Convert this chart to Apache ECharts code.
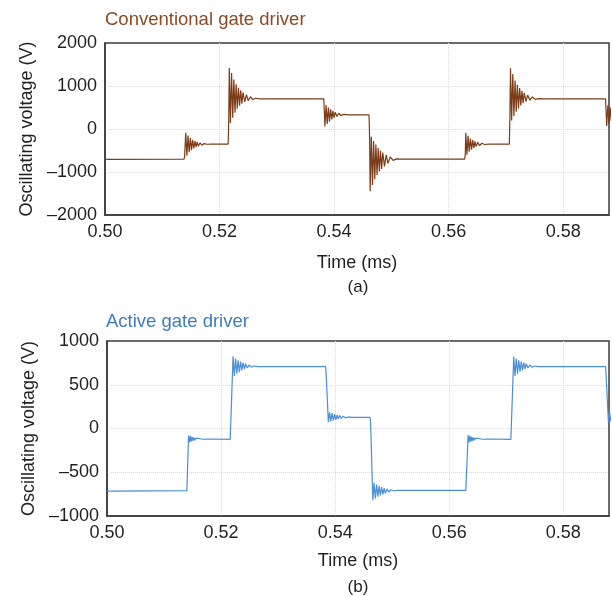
<!DOCTYPE html>
<html>
<head>
<meta charset="utf-8">
<script src="https://cdn.jsdelivr.net/npm/echarts@6/dist/echarts.min.js"></script>
<style>
html, body { margin: 0; padding: 0; background: #fff; }
#chart { width: 612px; height: 596px; }
</style>
</head>
<body>
<div id="chart"></div>
<script>
// tick settings
var timeTicks = [0.50, 0.52, 0.54, 0.56, 0.58];
var convTicks = [-2000, -1000, 0, 1000, 2000];
var actTicks = [-1000, -500, 0, 500, 1000];

// conventional gate driver, [time ms, voltage V], read edge by edge
var convStart = [[0.5000, -700], [0.5003, -690], [0.5006, -708], [0.5009, -700], [0.5138, -700]];
var convEdge1 = [[0.5139, -640], [0.5141, -90], [0.5143, -620], [0.5145, -150], [0.5147, -540], [0.5149, -210],
  [0.5151, -490], [0.5153, -250], [0.5155, -450], [0.5157, -280], [0.5159, -420], [0.5161, -300],
  [0.5163, -400], [0.5166, -320], [0.5169, -375], [0.5173, -340], [0.5178, -355], [0.5185, -350], [0.5215, -350]];
var convEdge2 = [[0.5216, 150], [0.5217, 1420], [0.5219, 140], [0.5221, 1300], [0.5223, 260], [0.5225, 1150],
  [0.5227, 380], [0.5229, 1040], [0.5231, 470], [0.5233, 960], [0.5235, 540], [0.5237, 900], [0.5239, 590],
  [0.5241, 850], [0.5244, 630], [0.5247, 800], [0.5250, 660], [0.5254, 750], [0.5258, 685], [0.5263, 715],
  [0.5270, 700], [0.5382, 700]];
var convEdge3 = [[0.5383, 400], [0.5384, 60], [0.5386, 560], [0.5388, 120], [0.5390, 500], [0.5392, 170],
  [0.5394, 460], [0.5396, 220], [0.5398, 420], [0.5400, 260], [0.5402, 390], [0.5405, 290], [0.5408, 365],
  [0.5412, 315], [0.5417, 340], [0.5425, 330], [0.5461, 330]];
var convEdge4 = [[0.5462, -200], [0.5463, -1450], [0.5465, -180], [0.5467, -1300], [0.5469, -280], [0.5471, -1170],
  [0.5473, -360], [0.5475, -1070], [0.5477, -440], [0.5479, -990], [0.5481, -500], [0.5483, -930],
  [0.5485, -550], [0.5488, -870], [0.5491, -600], [0.5494, -800], [0.5498, -650], [0.5503, -730],
  [0.5509, -695], [0.5516, -700], [0.5628, -700]];
var convEdge5 = [[0.5629, -600], [0.5630, -90], [0.5632, -600], [0.5634, -160], [0.5636, -530], [0.5638, -220],
  [0.5640, -480], [0.5642, -260], [0.5644, -440], [0.5646, -290], [0.5648, -410], [0.5651, -310],
  [0.5654, -390], [0.5658, -330], [0.5663, -360], [0.5670, -350], [0.5706, -350]];
var convEdge6 = [[0.5707, 300], [0.5708, 1410], [0.5710, 200], [0.5712, 1280], [0.5714, 300], [0.5716, 1130],
  [0.5718, 400], [0.5720, 1030], [0.5722, 480], [0.5724, 950], [0.5726, 550], [0.5728, 890], [0.5730, 600],
  [0.5732, 840], [0.5735, 640], [0.5738, 790], [0.5742, 670], [0.5746, 745], [0.5751, 690], [0.5758, 705],
  [0.5766, 700], [0.5874, 700]];
var convEdge7 = [[0.5875, 380], [0.5876, 70], [0.5878, 550], [0.5880, 120], [0.5882, 500], [0.5884, 180], [0.5886, 420]];

// active gate driver
var actStart = [[0.5000, -710], [0.5003, -700], [0.5005, -716], [0.5008, -710], [0.5140, -710]];
var actEdge1 = [[0.5143, -80], [0.51445, -160], [0.5146, -85], [0.51475, -150], [0.5149, -95], [0.51505, -140],
  [0.5152, -103], [0.5154, -133], [0.5156, -110], [0.5159, -128], [0.5163, -117], [0.5169, -123],
  [0.5177, -120], [0.5216, -124]];
var actEdge2 = [[0.5217, -110], [0.5221, 825], [0.52232, 600], [0.52254, 800], [0.52276, 625], [0.52298, 780],
  [0.5232, 645], [0.52342, 765], [0.52364, 665], [0.52386, 752], [0.52408, 680], [0.5243, 740],
  [0.5246, 692], [0.5249, 725], [0.5253, 702], [0.5258, 714], [0.5264, 708], [0.5383, 708]];
var actEdge3 = [[0.5384, 650], [0.5388, 72], [0.53902, 185], [0.53924, 80], [0.53946, 175], [0.53968, 90],
  [0.5399, 165], [0.54012, 100], [0.54034, 155], [0.54056, 108], [0.5408, 148], [0.5411, 115],
  [0.5414, 140], [0.5418, 122], [0.5423, 132], [0.5429, 128], [0.5461, 128]];
var actEdge4 = [[0.5462, 90], [0.5466, -820], [0.54682, -620], [0.54704, -800], [0.54726, -640], [0.54748, -780],
  [0.5477, -655], [0.54792, -765], [0.54814, -670], [0.54836, -752], [0.54858, -683], [0.5488, -740],
  [0.5491, -692], [0.5494, -726], [0.5498, -700], [0.5503, -714], [0.5509, -708], [0.5629, -708]];
var actEdge5 = [[0.5630, -700], [0.5633, -75], [0.56345, -160], [0.5636, -85], [0.56375, -150], [0.5639, -95],
  [0.56405, -140], [0.5642, -103], [0.5644, -133], [0.5646, -110], [0.5649, -128], [0.5653, -117],
  [0.5659, -123], [0.5667, -120], [0.5708, -124]];
var actEdge6 = [[0.5709, -110], [0.5713, 822], [0.57152, 600], [0.57174, 800], [0.57196, 625], [0.57218, 780],
  [0.5724, 648], [0.57262, 765], [0.57284, 665], [0.57306, 752], [0.57328, 680], [0.5735, 740],
  [0.5738, 692], [0.5741, 725], [0.5745, 702], [0.5750, 714], [0.5756, 708], [0.5874, 708]];
var actEdge7 = [[0.5875, 600], [0.5879, 66], [0.58812, 180], [0.58834, 80], [0.5886, 170]];

var convData = [].concat(convStart, convEdge1, convEdge2, convEdge3, convEdge4, convEdge5, convEdge6, convEdge7);
var actData = [].concat(actStart, actEdge1, actEdge2, actEdge3, actEdge4, actEdge5, actEdge6, actEdge7);

var FONT = '"Liberation Sans", Arial, sans-serif';
var TXT = '#231f20';
var FRAME = '#3a3a3a';

function minus(v) {
  return v < 0 ? '\u2013' + Math.abs(v) : String(v);
}

function xAxisFor(idx, gap) {
  return {
    type: 'value', gridIndex: idx,
    min: timeTicks[0], max: 0.588, interval: timeTicks[1] - timeTicks[0],
    name: 'Time (ms)', nameLocation: 'middle', nameGap: gap,
    nameTextStyle: { fontSize: 18, color: TXT, fontFamily: FONT },
    axisLine: { show: true, onZero: false, lineStyle: { color: FRAME, width: 1.5 } },
    axisTick: { show: false },
    axisLabel: { fontSize: 18, color: TXT, fontFamily: FONT, margin: 8, showMaxLabel: false,
      formatter: function (v) { return v.toFixed(2); } },
    splitLine: { show: true, showMinLine: false, showMaxLine: false,
      lineStyle: { color: '#dedbd0', type: 'dotted', width: 1 } }
  };
}

function yAxisFor(idx, ticks) {
  return {
    type: 'value', gridIndex: idx,
    min: ticks[0], max: ticks[ticks.length - 1], interval: ticks[1] - ticks[0],
    name: 'Oscillating voltage (V)', nameLocation: 'middle', nameGap: 67,
    nameTextStyle: { fontSize: 18, color: TXT, fontFamily: FONT },
    axisLine: { show: true, onZero: false, lineStyle: { color: FRAME, width: 1.5 } },
    axisTick: { show: false },
    axisLabel: { fontSize: 18, color: TXT, fontFamily: FONT, margin: 8, formatter: minus },
    splitLine: { show: true, showMinLine: false, showMaxLine: false,
      lineStyle: { color: '#dcdcdc', type: 'dotted', width: 1 } }
  };
}

var chart = echarts.init(document.getElementById('chart'));
var option = {
  animation: false,
  backgroundColor: '#fff',
  textStyle: { fontFamily: FONT },
  grid: [
    { left: 105, right: 3, top: 43, height: 172, show: true, borderColor: FRAME, borderWidth: 1.5 },
    { left: 107, right: 3, top: 341, height: 175, show: true, borderColor: FRAME, borderWidth: 1.5 }
  ],
  xAxis: [xAxisFor(0, 39), xAxisFor(1, 36)],
  yAxis: [yAxisFor(0, convTicks), yAxisFor(1, actTicks)],
  graphic: [
    { type: 'text', left: 105, top: 10, style: { text: 'Conventional gate driver', fill: '#8b4a26', font: '18.5px ' + FONT } },
    { type: 'text', left: 106, top: 312, style: { text: 'Active gate driver', fill: '#3f7cc0', font: '18.5px ' + FONT } },
    { type: 'text', x: 358, y: 287, style: { text: '(a)', fill: TXT, font: '17px ' + FONT, align: 'center', verticalAlign: 'middle' } },
    { type: 'text', x: 358, y: 587, style: { text: '(b)', fill: TXT, font: '17px ' + FONT, align: 'center', verticalAlign: 'middle' } }
  ],
  series: [
    { name: 'Conventional', type: 'line', xAxisIndex: 0, yAxisIndex: 0, data: convData,
      showSymbol: false, sampling: 'none', lineStyle: { color: '#7d3c17', width: 1.2 } },
    { name: 'Active', type: 'line', xAxisIndex: 1, yAxisIndex: 1, data: actData,
      showSymbol: false, sampling: 'none', lineStyle: { color: '#4a8fd6', width: 1.2 } }
  ]
};
chart.setOption(option);
</script>
</body>
</html>
